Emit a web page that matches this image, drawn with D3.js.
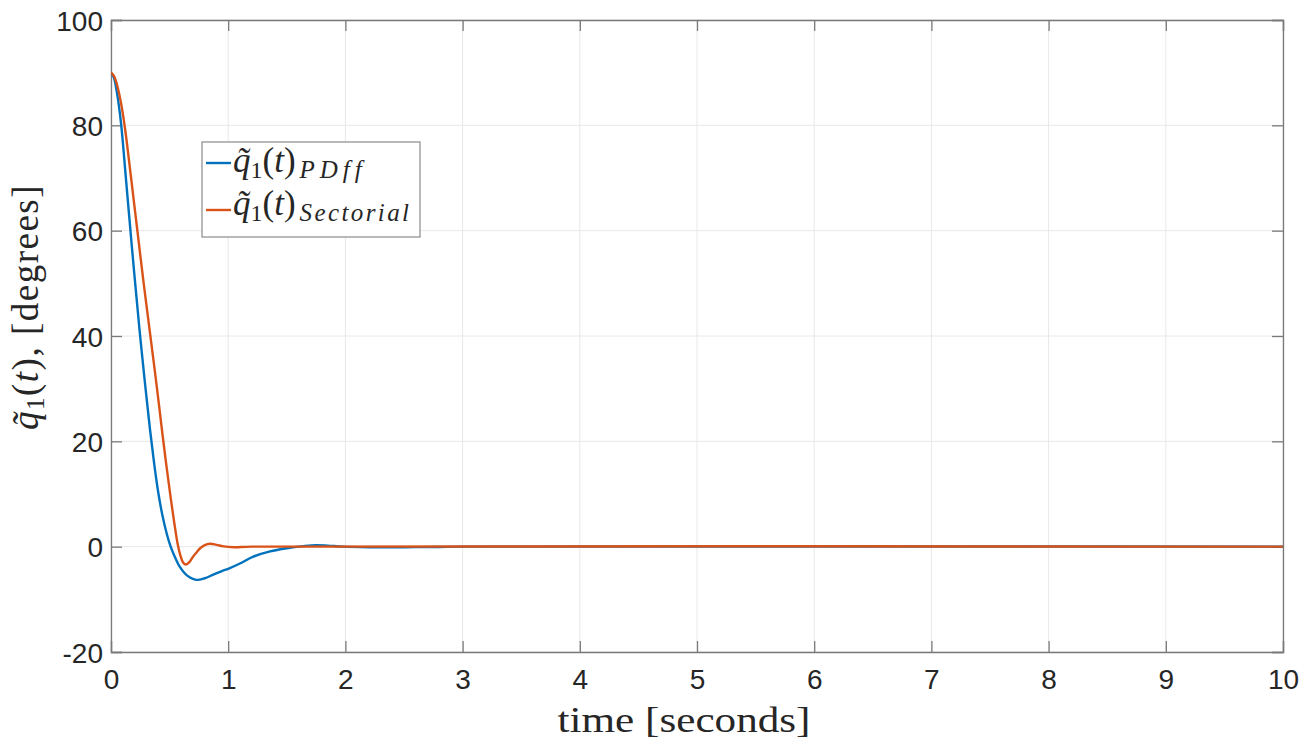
<!DOCTYPE html>
<html>
<head>
<meta charset="utf-8">
<script src="https://cdn.jsdelivr.net/npm/d3@7"></script>
<style>
  body { margin: 0; background: #fff; }
  svg { display: block; }
</style>
</head>
<body>
<svg id="chart" width="1305" height="746"></svg>
<script>
// ---- data ----
const xTicks = [0, 1, 2, 3, 4, 5, 6, 7, 8, 9, 10];
const yTicks = [-20, 0, 20, 40, 60, 80, 100];
const yTickLabels = ["-20", "0", "20", "40", "60", "80", "100"];

const pdffT = [0, 0.025, 0.05, 0.085, 0.125, 0.162, 0.2, 0.242, 0.29, 0.333, 0.37, 0.404, 0.44, 0.475, 0.509, 0.55, 0.589, 0.645, 0.73, 0.8, 0.873, 0.95, 1.0, 1.1, 1.214, 1.357, 1.5, 1.64, 1.75, 1.85, 1.98, 2.2, 2.5, 2.8, 3.0, 10];
const pdffV = [90, 89, 86.3, 80.5, 70.5, 61, 51.5, 41.5, 31, 22.2, 15.5, 10.2, 5.8, 2.5, 0, -2.2, -3.9, -5.4, -6.3, -6.0, -5.3, -4.6, -4.2, -3.2, -1.9, -0.9, -0.3, 0.1, 0.3, 0.2, 0, -0.1, -0.1, -0.05, 0, 0];

const sectT = [0, 0.025, 0.05, 0.085, 0.119, 0.17, 0.225, 0.28, 0.339, 0.39, 0.44, 0.475, 0.508, 0.54, 0.568, 0.59, 0.615, 0.64, 0.67, 0.70, 0.73, 0.76, 0.8, 0.845, 0.9, 0.96, 1.05, 1.2, 10];
const sectV = [90, 89.4, 87.8, 84.3, 79.5, 70.3, 60, 49.8, 39.5, 30.5, 21.2, 15.0, 9.5, 4.5, 0.6, -1.5, -3.0, -3.4, -2.9, -1.9, -1.1, -0.3, 0.3, 0.55, 0.35, 0.05, -0.1, 0, 0];

const seriesNames = ["PDff", "Sectorial"];
const seriesColors = ["#0072BD", "#D95319"];

// ---- layout ----
const svg = d3.select("#chart");
const L = 111, T = 20, W = 1172, H = 632;

const x = d3.scaleLinear().domain([0, 10]).range([L, L + W]);
const y = d3.scaleLinear().domain([-20, 100]).range([T + H, T]);

const axisColor = "#7a7a7a";
const textColor = "#262626";

// grid
const grid = svg.append("g");
grid.selectAll("line.gx").data(xTicks).join("line")
  .attr("x1", d => x(d)).attr("x2", d => x(d))
  .attr("y1", T).attr("y2", T + H)
  .attr("stroke", "#e8e8e8").attr("stroke-width", 1);
grid.selectAll("line.gy").data(yTicks).join("line")
  .attr("y1", d => y(d)).attr("y2", d => y(d))
  .attr("x1", L).attr("x2", L + W)
  .attr("stroke", "#e8e8e8").attr("stroke-width", 1);

// axes (ticks inward)
const tickLen = 11;
const axB = svg.append("g").attr("transform", `translate(0,${T + H})`)
  .call(d3.axisBottom(x).tickValues(xTicks).tickSize(-tickLen).tickPadding(17).tickFormat(d3.format("d")));
const axT = svg.append("g").attr("transform", `translate(0,${T})`)
  .call(d3.axisTop(x).tickValues(xTicks).tickSize(-tickLen).tickFormat(""));
const axL = svg.append("g").attr("transform", `translate(${L},0)`)
  .call(d3.axisLeft(y).tickValues(yTicks).tickSize(-tickLen).tickPadding(8)
    .tickFormat((d, i) => yTickLabels[i]));
const axR = svg.append("g").attr("transform", `translate(${L + W},0)`)
  .call(d3.axisRight(y).tickValues(yTicks).tickSize(-tickLen).tickFormat(""));

[axB, axT, axL, axR].forEach(a => {
  a.select(".domain").attr("stroke", axisColor).attr("stroke-width", 1.3);
  a.selectAll(".tick line").attr("stroke", axisColor).attr("stroke-width", 1.3);
  a.selectAll(".tick text").attr("fill", textColor)
    .style("font-family", "'Liberation Sans', Arial, Helvetica, sans-serif")
    .style("font-size", "28px");
});
axB.selectAll(".tick text").attr("dy", "0.71em");
axL.selectAll(".tick text").attr("dy", "0.36em");

// lines
const line = d3.line().x(d => x(d[0])).y(d => y(d[1])).curve(d3.curveCatmullRom.alpha(0.5));
svg.append("clipPath").attr("id", "clip").append("rect")
  .attr("x", L).attr("y", T).attr("width", W).attr("height", H);
const lines = svg.append("g").attr("clip-path", "url(#clip)");
const pdffData = pdffT.map((t, i) => [t, pdffV[i]]);
const sectData = sectT.map((t, i) => [t, sectV[i]]);
lines.append("path").datum(pdffData).attr("d", line)
  .attr("fill", "none").attr("stroke", seriesColors[0]).attr("stroke-width", 2.4);
lines.append("path").datum(sectData).attr("d", line)
  .attr("fill", "none").attr("stroke", seriesColors[1]).attr("stroke-width", 2.4);

// axis labels (LaTeX-like serif)
const serif = "'Liberation Serif', 'Times New Roman', serif";
svg.append("text")
  .attr("x", 684).attr("y", 732)
  .attr("text-anchor", "middle")
  .attr("fill", textColor)
  .attr("textLength", 253).attr("lengthAdjust", "spacingAndGlyphs")
  .style("font-family", serif).style("font-size", "36px")
  .text("time [seconds]");

const yl = svg.append("text")
  .attr("transform", `translate(38,${T + H / 2 - 29}) rotate(-90)`)
  .attr("text-anchor", "middle")
  .attr("fill", textColor)
  .style("font-family", serif).style("font-size", "37px")
  .style("letter-spacing", "1.5px");
yl.append("tspan").style("font-style", "italic").text("q\u0303");
yl.append("tspan").attr("dy", 6).style("font-size", "25px").text("1");
yl.append("tspan").attr("dy", -6).text("(");
yl.append("tspan").style("font-style", "italic").text("t");
yl.append("tspan").text("),  [degrees]");

// legend
const lg = svg.append("g");
lg.append("rect").attr("x", 202).attr("y", 142).attr("width", 218).attr("height", 95)
  .attr("fill", "#fff").attr("stroke", "#8a8a8a").attr("stroke-width", 1.2);
const rows = [172, 215];
const subSpacing = [5, 2.4];
seriesNames.forEach((name, i) => {
  const yy = rows[i];
  lg.append("line").attr("x1", 206).attr("x2", 231).attr("y1", [163, 210][i]).attr("y2", [163, 210][i])
    .attr("stroke", seriesColors[i]).attr("stroke-width", 2.4);
  const t = lg.append("text").attr("x", 233).attr("y", yy)
    .attr("fill", textColor).style("font-family", serif).style("font-size", "35px")
    .style("font-variant-ligatures", "none");
  t.append("tspan").style("font-style", "italic").text("q\u0303");
  t.append("tspan").attr("dy", 6).style("font-size", "24px").text("1");
  t.append("tspan").attr("dy", -6).text("(");
  t.append("tspan").style("font-style", "italic").text("t");
  t.append("tspan").text(")");
  t.append("tspan").attr("dy", 6).attr("dx", 4)
    .style("font-style", "italic").style("font-size", "25px")
    .style("letter-spacing", subSpacing[i] + "px")
    .text(name);
});
</script>
</body>
</html>
